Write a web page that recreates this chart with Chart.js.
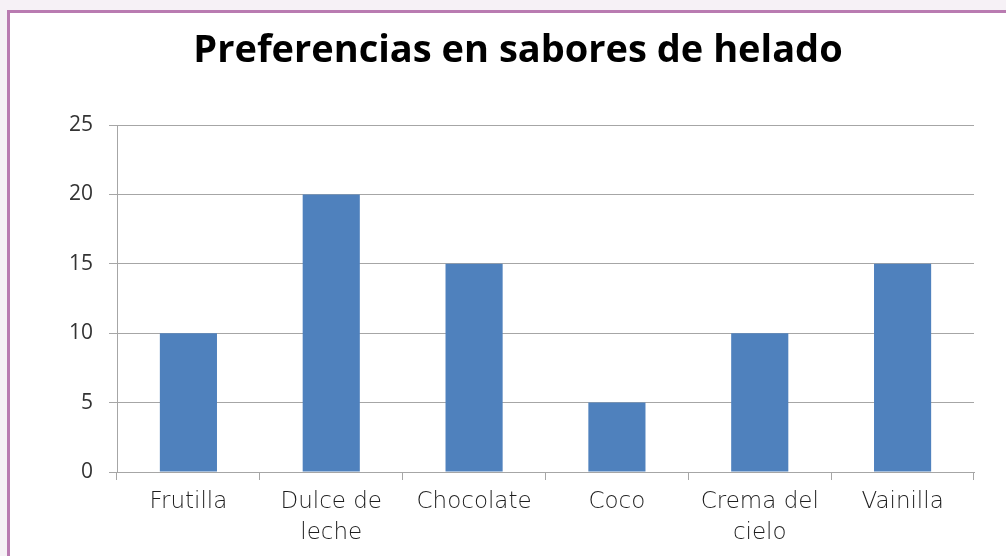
<!DOCTYPE html>
<html lang="es">
<head>
<meta charset="utf-8">
<title>Preferencias en sabores de helado</title>
<script src="https://cdn.jsdelivr.net/npm/chart.js@4"></script>
<style>
    html, body {
        margin: 0;
        padding: 0;
        width: 1006px;
        height: 556px;
        overflow: hidden;
        background: #f6f1f6;
    }
    .frame {
        position: absolute;
        left: 7px;
        top: 10px;
        width: 1020px;
        height: 580px;
        background: #ffffff;
        border: 3px solid #b97bb1;
    }
    #chartWrap {
        position: absolute;
        left: 0;
        top: 0;
        width: 1006px;
        height: 556px;
    }
</style>
</head>
<body>
<div class="frame"></div>
<div id="chartWrap"><canvas id="heladoChart" width="1006" height="556"></canvas></div>
<script>
// Sabores y cantidad de personas que los prefieren
const sabores = ['Frutilla', ['Dulce de', 'leche'], 'Chocolate', 'Coco', ['Crema del', 'cielo'], 'Vainilla'];
const preferencias = [10, 20, 15, 5, 10, 15];
const ejeY = { min: 0, max: 25, paso: 5 };

const gridColor = '#a6a6a6';

const ctx = document.getElementById('heladoChart').getContext('2d');

new Chart(ctx, {
    type: 'bar',
    data: {
        labels: sabores,
        datasets: [{
            label: 'Preferencias',
            data: preferencias,
            backgroundColor: '#4f81bd',
            borderWidth: 0,
            barPercentage: 0.4,
            categoryPercentage: 1.0
        }]
    },
    options: {
        responsive: false,
        animation: false,
        layout: {
            padding: { left: 62, right: 32, top: 0, bottom: 0 }
        },
        plugins: {
            legend: { display: false },
            tooltip: { enabled: false },
            title: {
                display: true,
                text: 'Preferencias en sabores de helado',
                color: '#000000',
                font: { family: "'Open Sans', sans-serif", size: 38, weight: 'bold', lineHeight: 1.2 },
                padding: { top: 28, bottom: 51.4 }
            }
        },
        scales: {
            x: {
                grid: {
                    display: true,
                    drawOnChartArea: false,
                    offset: true,
                    color: gridColor,
                    tickLength: 8
                },
                border: { display: true, color: gridColor },
                ticks: {
                    color: '#1e1e1e',
                    padding: 6,
                    maxRotation: 0,
                    autoSkip: false,
                    font: { family: "'DejaVu Sans', sans-serif", size: 23, weight: 200, lineHeight: 1.37 }
                },
                afterFit: (scale) => { scale.height = 84; }
            },
            y: {
                min: ejeY.min,
                max: ejeY.max,
                grid: {
                    color: gridColor,
                    tickLength: 8
                },
                border: { display: true, color: gridColor },
                ticks: {
                    stepSize: ejeY.paso,
                    color: '#333333',
                    padding: 16,
                    font: { family: "'Open Sans', sans-serif", size: 21 }
                },
                afterFit: (scale) => { scale.width = 55; }
            }
        }
    }
});
</script>
</body>
</html>
